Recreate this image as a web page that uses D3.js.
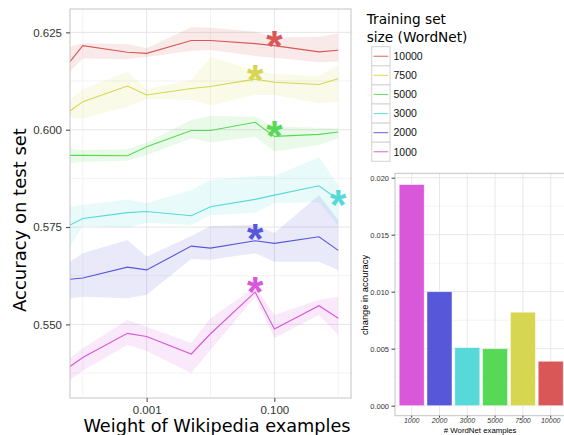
<!DOCTYPE html>
<html>
<head>
<meta charset="utf-8">
<script src="https://cdn.jsdelivr.net/npm/d3@7"></script>
<style>
  html, body { margin: 0; padding: 0; background: #fff; }
  svg { display: block; }
</style>
</head>
<body>
<svg id="chart" width="564" height="435"></svg>
<script>
// Wikipedia example weight (0 = no Wikipedia examples, drawn at the panel edge)
const weights = [0, 1e-4, 5e-4, 1e-3, 5e-3, 1e-2, 5e-2, 1e-1, 5e-1, 1];

// WordNet training set sizes, legend order
const sizes = ["10000", "7500", "5000", "3000", "2000", "1000"];

// Mean accuracy on the test set, with lower / upper band
const acc10000 = [0.6175, 0.6216, 0.6199, 0.6196, 0.6229, 0.6229, 0.6221, 0.6216, 0.6200, 0.6204];
const lo10000  = [0.6149, 0.6183, 0.6181, 0.6187, 0.6203, 0.6205, 0.6189, 0.6185, 0.6173, 0.6175];
const hi10000  = [0.6213, 0.6222, 0.6220, 0.6209, 0.6263, 0.6262, 0.6252, 0.6237, 0.6239, 0.6247];

const acc7500 = [0.6048, 0.6072, 0.6112, 0.6089, 0.6106, 0.6111, 0.6130, 0.6122, 0.6116, 0.6131];
const lo7500  = [0.6032, 0.6029, 0.6059, 0.6079, 0.6076, 0.6063, 0.6089, 0.6089, 0.6068, 0.6072];
const hi7500  = [0.6076, 0.6104, 0.6149, 0.6104, 0.6128, 0.6187, 0.6153, 0.6143, 0.6138, 0.6166];

const acc5000 = [0.5934, 0.5934, 0.5933, 0.5956, 0.5998, 0.5998, 0.6019, 0.5983, 0.5988, 0.5994];
const lo5000  = [0.5914, 0.5918, 0.5920, 0.5935, 0.5978, 0.5967, 0.5982, 0.5944, 0.5961, 0.5978];
const hi5000  = [0.5952, 0.5948, 0.5950, 0.5967, 0.6025, 0.6035, 0.6033, 0.6008, 0.6005, 0.6004];

const acc3000 = [0.5755, 0.5772, 0.5787, 0.5790, 0.5779, 0.5802, 0.5821, 0.5832, 0.5856, 0.5820];
const lo3000  = [0.5700, 0.5753, 0.5748, 0.5761, 0.5755, 0.5781, 0.5786, 0.5812, 0.5814, 0.5753];
const hi3000  = [0.5802, 0.5807, 0.5820, 0.5812, 0.5845, 0.5871, 0.5881, 0.5881, 0.5930, 0.5858];

const acc2000 = [0.5616, 0.5619, 0.5647, 0.5640, 0.5701, 0.5696, 0.5715, 0.5708, 0.5725, 0.5690];
const lo2000  = [0.5567, 0.5571, 0.5567, 0.5576, 0.5668, 0.5666, 0.5683, 0.5661, 0.5661, 0.5640];
const hi2000  = [0.5661, 0.5683, 0.5717, 0.5674, 0.5727, 0.5753, 0.5755, 0.5735, 0.5832, 0.5768];

const acc1000 = [0.5392, 0.5415, 0.5477, 0.5469, 0.5424, 0.5476, 0.5583, 0.5488, 0.5548, 0.5516];
const lo1000  = [0.5357, 0.5381, 0.5447, 0.5432, 0.5375, 0.5434, 0.5571, 0.5465, 0.5524, 0.5473];
const hi1000  = [0.5413, 0.5439, 0.5511, 0.5494, 0.5452, 0.5516, 0.5596, 0.5524, 0.5563, 0.5571];

// Best weight for each training set size (starred)
const bestWeight = [0.1, 0.05, 0.1, 1, 0.05, 0.05];
const bestAcc    = [0.6236, 0.6151, 0.6006, 0.5829, 0.5741, 0.5606];

// Main panel tick values
const yTicks = [0.550, 0.575, 0.600, 0.625];
const yMinor = [0.5375, 0.5625, 0.5875, 0.6125];
const xTicks = [0.001, 0.1];
const xMinor = [1e-4, 1e-2, 1];

// Inset: change in accuracy per WordNet training set size
const gainSizes = ["1000", "2000", "3000", "5000", "7500", "10000"];
const gain = [0.0194, 0.0100, 0.0051, 0.0050, 0.0082, 0.0039];
const gainTicks = [0, 0.005, 0.010, 0.015, 0.020];
const gainMinor = [0.0025, 0.0075, 0.0125, 0.0175];

// Series colours
const palette = {
  "10000": "#D95757", "7500": "#D6D650", "5000": "#57D957",
  "3000": "#57D9D9", "2000": "#5757D9", "1000": "#D957D9"
};

const series = [
  { key: "10000", acc: acc10000, lo: lo10000, hi: hi10000 },
  { key: "7500",  acc: acc7500,  lo: lo7500,  hi: hi7500 },
  { key: "5000",  acc: acc5000,  lo: lo5000,  hi: hi5000 },
  { key: "3000",  acc: acc3000,  lo: lo3000,  hi: hi3000 },
  { key: "2000",  acc: acc2000,  lo: lo2000,  hi: hi2000 },
  { key: "1000",  acc: acc1000,  lo: lo1000,  hi: hi1000 }
];

const svg = d3.select("#chart");
svg.append("rect").attr("width", 564).attr("height", 435).attr("fill", "#fff");

const TICK_FONT = "'Liberation Sans', Arial, sans-serif";
const TITLE_FONT = "'DejaVu Sans', sans-serif";

// ---------- main panel ----------
const P = { left: 70, right: 351, top: 9, bottom: 398 };

const x = d3.scaleLog()
  .domain([Math.pow(10, -4.2), Math.pow(10, 0.2)])
  .range([P.left, P.right])
  .clamp(true);
const y = d3.scaleLinear()
  .domain([0.5311, 0.6310])
  .range([P.bottom, P.top]);

const main = svg.append("g");
main.append("rect")
  .attr("x", P.left).attr("y", P.top)
  .attr("width", P.right - P.left).attr("height", P.bottom - P.top)
  .attr("fill", "#fff");

main.append("clipPath").attr("id", "mainClip")
  .append("rect")
  .attr("x", P.left).attr("y", P.top)
  .attr("width", P.right - P.left).attr("height", P.bottom - P.top);

const grid = main.append("g");
grid.selectAll(".ymin").data(yMinor).join("line")
  .attr("x1", P.left).attr("x2", P.right)
  .attr("y1", d => y(d)).attr("y2", d => y(d))
  .attr("stroke", "#f3f3f3").attr("stroke-width", 1);
grid.selectAll(".xmin").data(xMinor).join("line")
  .attr("y1", P.top).attr("y2", P.bottom)
  .attr("x1", d => x(d)).attr("x2", d => x(d))
  .attr("stroke", "#f3f3f3").attr("stroke-width", 1);
grid.selectAll(".ymaj").data(yTicks).join("line")
  .attr("x1", P.left).attr("x2", P.right)
  .attr("y1", d => y(d)).attr("y2", d => y(d))
  .attr("stroke", "#e6e6e6").attr("stroke-width", 1);
grid.selectAll(".xmaj").data(xTicks).join("line")
  .attr("y1", P.top).attr("y2", P.bottom)
  .attr("x1", d => x(d)).attr("x2", d => x(d))
  .attr("stroke", "#e6e6e6").attr("stroke-width", 1);

const plot = main.append("g").attr("clip-path", "url(#mainClip)");

const area = d3.area()
  .x(d => x(d.w))
  .y0(d => y(d.lo))
  .y1(d => y(d.hi));
const line = d3.line()
  .x(d => x(d.w))
  .y(d => y(d.acc));

const rows = s => weights.map((w, i) => ({ w, acc: s.acc[i], lo: s.lo[i], hi: s.hi[i] }));

plot.selectAll(".band").data(series).join("path")
  .attr("d", s => area(rows(s)))
  .attr("fill", s => palette[s.key])
  .attr("fill-opacity", 0.13);

plot.selectAll(".line").data(series).join("path")
  .attr("d", s => line(rows(s)))
  .attr("fill", "none")
  .attr("stroke", s => palette[s.key])
  .attr("stroke-width", 1.1);

// starred best weights
main.selectAll(".star").data(series).join("text")
  .attr("x", (s, i) => x(bestWeight[i]))
  .attr("y", (s, i) => y(bestAcc[i]))
  .attr("dy", "0.54em")
  .attr("text-anchor", "middle")
  .attr("font-family", TICK_FONT)
  .attr("font-weight", "bold")
  .attr("font-size", 42)
  .attr("fill", s => palette[s.key])
  .text("*");

main.append("rect")
  .attr("x", P.left).attr("y", P.top)
  .attr("width", P.right - P.left).attr("height", P.bottom - P.top)
  .attr("fill", "none").attr("stroke", "#c4c4c4").attr("stroke-width", 1);

const yAxis = main.append("g")
  .attr("transform", `translate(${P.left},0)`)
  .call(d3.axisLeft(y).tickValues(yTicks).tickFormat(d3.format(".3f")).tickSize(4).tickPadding(4));
const xAxis = main.append("g")
  .attr("transform", `translate(0,${P.bottom})`)
  .call(d3.axisBottom(x).tickValues(xTicks).tickFormat(d3.format(".3f")).tickSize(4).tickPadding(4));
[yAxis, xAxis].forEach(a => {
  a.select(".domain").remove();
  a.selectAll(".tick line").attr("stroke", "#444");
  a.selectAll(".tick text")
    .attr("font-family", TICK_FONT).attr("font-size", 11.5).attr("fill", "#333");
});

main.append("text")
  .attr("x", 217).attr("y", 431.5)
  .attr("text-anchor", "middle")
  .attr("font-family", TITLE_FONT).attr("font-size", 17.7)
  .attr("fill", "#000")
  .text("Weight of Wikipedia examples");

main.append("text")
  .attr("transform", "translate(25.5,220) rotate(-90)")
  .attr("text-anchor", "middle")
  .attr("font-family", TITLE_FONT).attr("font-size", 18)
  .attr("fill", "#000")
  .text("Accuracy on test set");

// ---------- legend ----------
const legend = svg.append("g");
legend.append("text")
  .attr("x", 366.7).attr("y", 23.5)
  .attr("font-family", TITLE_FONT).attr("font-size", 13.7)
  .text("Training set");
legend.append("text")
  .attr("x", 366.7).attr("y", 41.5)
  .attr("font-family", TITLE_FONT).attr("font-size", 13.7)
  .text("size (WordNet)");

const keyH = 19.1, keyTop = 46.7;
const keys = legend.selectAll(".key").data(sizes).join("g")
  .attr("transform", (d, i) => `translate(371.7,${keyTop + i * keyH})`);
keys.append("rect")
  .attr("width", 18.3).attr("height", keyH)
  .attr("fill", "#fff").attr("stroke", "#d3d3d3").attr("stroke-width", 1);
keys.append("line")
  .attr("x1", 1.8).attr("x2", 16.5)
  .attr("y1", keyH / 2).attr("y2", keyH / 2)
  .attr("stroke", d => palette[d]).attr("stroke-width", 1.1)
  .attr("stroke-opacity", 0.85);
keys.append("text")
  .attr("x", 21.8).attr("y", keyH / 2).attr("dy", "0.36em")
  .attr("font-family", TICK_FONT).attr("font-size", 10.5).attr("fill", "#111")
  .text(d => d);

// ---------- inset bar chart ----------
const I = { left: 395, right: 567.4, top: 173.3, bottom: 415.7 };
const inset = svg.append("g");
inset.append("rect")
  .attr("x", 355).attr("y", 165).attr("width", 209).attr("height", 270)
  .attr("fill", "#fff");

const bx = d3.scaleBand()
  .domain(gainSizes)
  .range([I.left, I.right])
  .paddingInner(0.1)
  .paddingOuter(0.15);
const by = d3.scaleLinear()
  .domain([-0.000877, 0.020386])
  .range([I.bottom, I.top]);

inset.selectAll(".gmin").data(gainMinor).join("line")
  .attr("x1", I.left).attr("x2", I.right)
  .attr("y1", d => by(d)).attr("y2", d => by(d))
  .attr("stroke", "#f4f4f4");
inset.selectAll(".gmaj").data(gainTicks).join("line")
  .attr("x1", I.left).attr("x2", I.right)
  .attr("y1", d => by(d)).attr("y2", d => by(d))
  .attr("stroke", "#e8e8e8");
inset.selectAll(".gx").data(gainSizes).join("line")
  .attr("x1", d => bx(d) + bx.bandwidth() / 2).attr("x2", d => bx(d) + bx.bandwidth() / 2)
  .attr("y1", I.top).attr("y2", I.bottom)
  .attr("stroke", "#e8e8e8");

inset.selectAll(".bar").data(gainSizes).join("rect")
  .attr("x", d => bx(d))
  .attr("width", bx.bandwidth())
  .attr("y", (d, i) => by(gain[i]))
  .attr("height", (d, i) => by(0) - by(gain[i]))
  .attr("fill", d => palette[d])
  .attr("stroke", "#fff").attr("stroke-opacity", 0.6).attr("stroke-width", 0.8);

inset.append("rect")
  .attr("x", I.left).attr("y", I.top)
  .attr("width", I.right - I.left).attr("height", I.bottom - I.top)
  .attr("fill", "none").attr("stroke", "#c4c4c4");

const gy = inset.append("g")
  .attr("transform", `translate(${I.left},0)`)
  .call(d3.axisLeft(by).tickValues(gainTicks).tickFormat(d3.format(".3f")).tickSize(3.5).tickPadding(2.5));
const gx = inset.append("g")
  .attr("transform", `translate(0,${I.bottom})`)
  .call(d3.axisBottom(bx).tickSize(2).tickPadding(0.5));
[gy, gx].forEach(a => {
  a.select(".domain").remove();
  a.selectAll(".tick line").attr("stroke", "#444");
  a.selectAll(".tick text")
    .attr("font-family", TICK_FONT).attr("font-size", 7.5).attr("fill", "#333");
});
gx.selectAll(".tick text").attr("font-style", "italic").attr("font-size", 7);

inset.append("text")
  .attr("transform", "translate(368,295) rotate(-90)")
  .attr("text-anchor", "middle")
  .attr("font-family", TICK_FONT).attr("font-size", 9.3)
  .text("change in accuracy");
inset.append("text")
  .attr("x", (I.left + I.right) / 2 - 1).attr("y", 433.4)
  .attr("text-anchor", "middle")
  .attr("font-family", TICK_FONT).attr("font-size", 7.8)
  .text("# WordNet examples");
</script>
</body>
</html>
